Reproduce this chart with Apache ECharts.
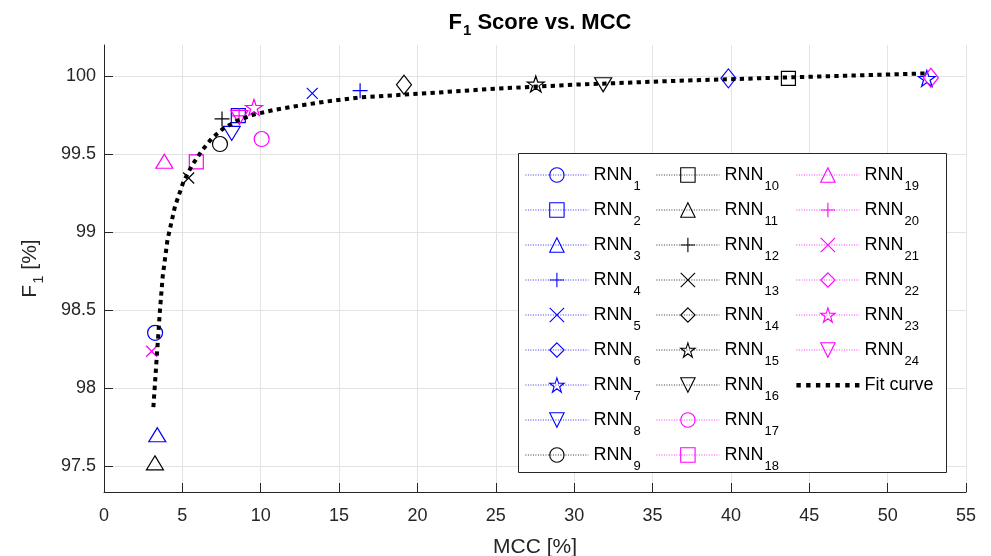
<!DOCTYPE html>
<html>
<head>
<meta charset="utf-8">
<script src="https://cdn.jsdelivr.net/npm/echarts@6/dist/echarts.min.js"></script>
<style>
  html, body { margin: 0; padding: 0; background: #fff; }
  #chart { width: 991px; height: 556px; }
</style>
</head>
<body>
<div id="chart"></div>
<script>
const font = "'Liberation Sans', Arial, Helvetica, sans-serif";
const axis_color = "#262626";

// one marker per network: [MCC %, F1 %]
const rnn_names = ["RNN1", "RNN2", "RNN3", "RNN4", "RNN5", "RNN6", "RNN7", "RNN8", "RNN9", "RNN10", "RNN11", "RNN12",
  "RNN13", "RNN14", "RNN15", "RNN16", "RNN17", "RNN18", "RNN19", "RNN20", "RNN21", "RNN22", "RNN23", "RNN24"];
const rnn_mcc = [3.26, 8.57, 3.40, 16.34, 13.29, 39.84, 52.50, 8.15, 7.40, 43.67, 3.25, 7.53,
  5.40, 19.14, 27.55, 31.85, 10.06, 5.89, 3.85, 8.62, 3.04, 52.76, 9.57, 8.64];
const rnn_f1 = [98.354, 99.747, 97.700, 99.907, 99.890, 99.986, 99.986, 99.633, 99.565, 99.986, 97.520, 99.726,
  99.347, 99.945, 99.950, 99.945, 99.597, 99.450, 99.454, 99.745, 98.236, 99.990, 99.800, 99.735];

// fit curve
const fit_mcc = [3.15, 3.26, 3.36, 3.47, 3.57, 3.75, 4.05, 4.53, 5.06, 5.60, 6.23, 6.87, 7.61, 8.51,
  9.53, 10.81, 12.08, 14.0, 16.34, 20.8, 25.0, 30.16, 36.76, 45.26, 52.6];
const fit_f1 = [97.877, 98.04, 98.19, 98.35, 98.50, 98.72, 98.95, 99.165, 99.32, 99.425, 99.52, 99.60, 99.665, 99.715,
  99.753, 99.783, 99.805, 99.835, 99.864, 99.892, 99.92, 99.946, 99.971, 99.997, 100.018];

const x_ticks = [0, 5, 10, 15, 20, 25, 30, 35, 40, 45, 50, 55];
const y_ticks = [97.5, 98, 98.5, 99, 99.5, 100];

// marker styles (matlab-ish)
const blue = "#0000ff", black = "#000000", magenta = "#ff00ff";
const star = "path://M100,0L122.5,69.1L195.1,69.1L136.3,111.8L158.8,180.9L100,138.2L41.2,180.9L63.7,111.8L4.9,69.1L77.5,69.1Z";
const markers = {
  circle: ["circle", [15, 15]],
  square: ["rect", [14, 14]],
  tri: ["path://M5,0L10,8.5L0,8.5Z", [17, 14]],
  plus: ["path://M0,5L10,5M5,0L5,10", [15, 15]],
  cross: ["path://M0,0L10,10M10,0L0,10", [11, 11]],
  diamond: ["diamond", [15, 19]],
  star: [star, [17, 16]],
  down: ["path://M0,0L10,0L5,8.5Z", [17, 14]]
};
const marker_order = ["circle", "square", "tri", "plus", "cross", "diamond", "star", "down"];

function rnnColor(i) {
  if (i < 8) return blue;
  if (i < 16) return black;
  return magenta;
}

function rnnMarker(i) {
  // RNN9..RNN16 start again from the circle
  return markers[marker_order[i % 8]];
}

function rnnSeries() {
  return rnn_names.map((name, i) => {
    const c = rnnColor(i);
    const [symbol, size] = rnnMarker(i);
    return {
      name,
      type: "line",
      data: [[rnn_mcc[i], rnn_f1[i]]],
      symbol,
      symbolSize: size,
      showSymbol: true,
      z: 2,
      itemStyle: { color: "rgba(0,0,0,0)", borderColor: c, borderWidth: 1.2 },
      lineStyle: { color: c, width: 1, type: [1, 1.5] },
      emphasis: { disabled: true },
      animation: false
    };
  });
}

function legendCol(names, left) {
  return {
    orient: "vertical",
    left, top: 166,
    padding: 0,
    itemWidth: 63,
    itemHeight: 18,
    itemGap: 8.5,
    data: names,
    selectedMode: false,
    itemStyle: { borderWidth: 1.1 },
    lineStyle: { width: 0.8 },
    formatter: (name) => name === "Fit curve" ? "{a|Fit curve}{s| }" : "{a|RNN}{s|" + name.slice(3) + "}",
    textStyle: {
      fontFamily: font, fontSize: 18, color: "#000",
      rich: {
        a: { fontFamily: font, fontSize: 18, color: "#000" },
        s: { fontFamily: font, fontSize: 13, color: "#000", padding: [22, 0, 0, 1] }
      }
    }
  };
}

// fit curve legend icon: seven dots, padded to the item height
const fit_icon = "path://M0,0L0.01,0M0,18L0.01,18" +
  [0, 1, 2, 3, 4, 5, 6].map((k) => "M" + (k * 9.8) + ",7h4.4v4.4h-4.4z").join("");

const chart = echarts.init(document.getElementById("chart"), null, { renderer: "canvas" });

chart.setOption({
  animation: false,
  backgroundColor: "#fff",
  title: {
    text: "{a|F}{s|1}{a| Score vs. MCC}",
    left: 535, top: 2,
    textAlign: "center",
    textStyle: {
      rich: {
        a: { fontFamily: font, fontSize: 22, fontWeight: "bold", color: "#000" },
        s: { fontFamily: font, fontSize: 15, fontWeight: "bold", color: "#000", padding: [16, 0, 0, 1] }
      }
    }
  },
  grid: { left: 104, right: 25, top: 45, bottom: 64, containLabel: false, outerBoundsMode: "none" },
  xAxis: {
    type: "value",
    min: 0, max: 55, interval: 5,
    name: "MCC [%]",
    nameLocation: "middle",
    nameGap: 45,
    nameTextStyle: { fontFamily: font, fontSize: 21, color: axis_color },
    axisLine: { lineStyle: { color: axis_color, width: 1 } },
    axisTick: { inside: true, length: 9, lineStyle: { color: axis_color } },
    axisLabel: { fontFamily: font, fontSize: 18, color: axis_color, margin: 15 },
    splitLine: { show: true, lineStyle: { color: "#e3e3e3", width: 1 } }
  },
  yAxis: {
    type: "value",
    min: 97.333, max: 100.2,
    name: "{a|F}{s|1}{a| [%]}",
    nameLocation: "middle",
    nameGap: 58,
    nameTextStyle: {
      rich: {
        a: { fontFamily: font, fontSize: 21, color: axis_color },
        s: { fontFamily: font, fontSize: 15, color: axis_color, padding: [16, 0, 0, 1] }
      }
    },
    axisLine: { show: true, lineStyle: { color: axis_color, width: 1 } },
    axisTick: { show: true, inside: true, length: 9, customValues: y_ticks, lineStyle: { color: axis_color } },
    axisLabel: { fontFamily: font, fontSize: 18, color: axis_color, margin: 8, customValues: y_ticks },
    splitLine: { show: true, lineStyle: { color: "#e3e3e3", width: 1 } }
  },
  legend: [
    legendCol(rnn_names.slice(0, 9), 525),
    legendCol(rnn_names.slice(9, 18), 656),
    legendCol(rnn_names.slice(18).concat([{ name: "Fit curve", icon: fit_icon }]), 796)
  ],
  graphic: [{
    type: "rect",
    z: 3,
    shape: { x: 518.5, y: 153.5, width: 428, height: 319 },
    style: { fill: "#fff", stroke: axis_color, lineWidth: 1 }
  }],
  series: rnnSeries().concat([{
    name: "Fit curve",
    type: "line",
    data: fit_mcc.map((x, i) => [x, fit_f1[i]]),
    symbol: "none",
    z: 3,
    itemStyle: { color: "#000" },
    lineStyle: { color: "#000", width: 4, type: [4.3, 4.3], cap: "butt" },
    emphasis: { disabled: true },
    animation: false
  }])
});
</script>
</body>
</html>
